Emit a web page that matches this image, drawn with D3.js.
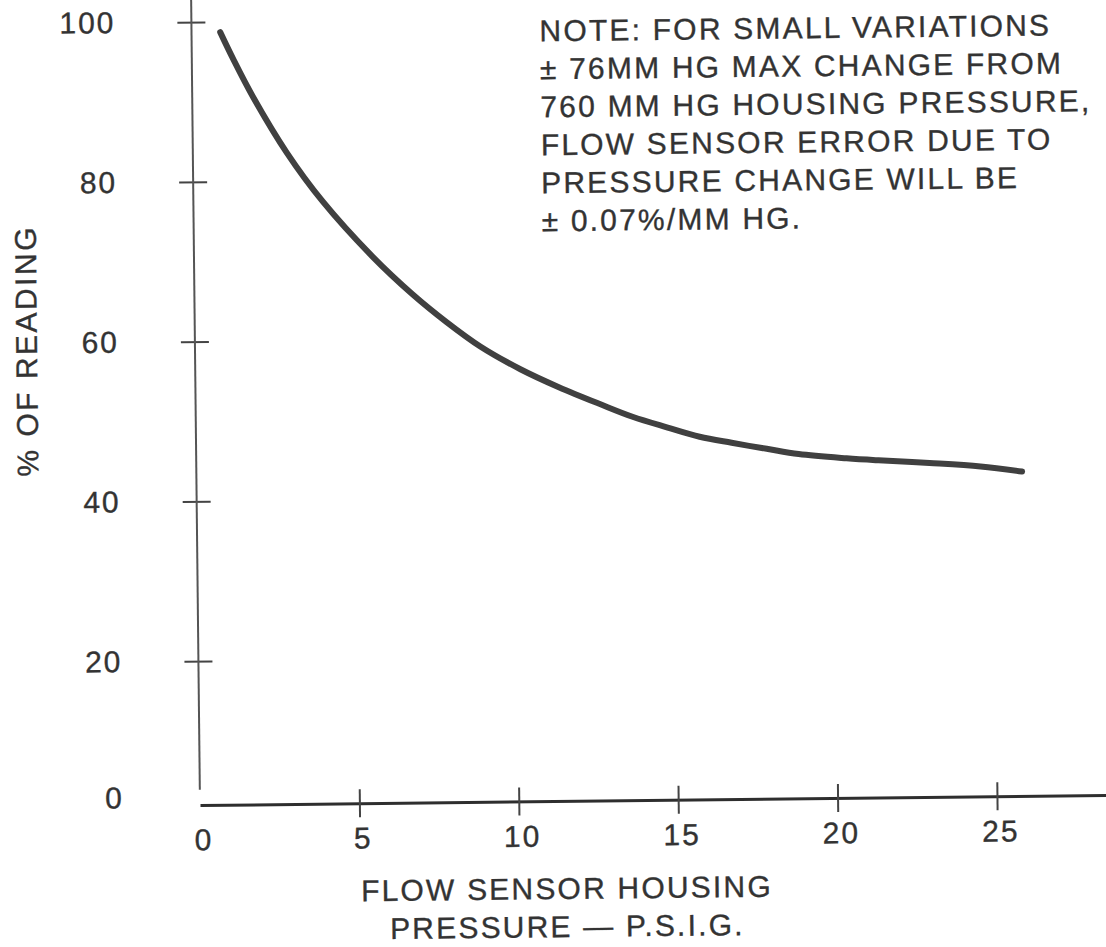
<!DOCTYPE html>
<html>
<head>
<meta charset="utf-8">
<script src="https://cdn.jsdelivr.net/npm/d3@7"></script>
<style>
  body { margin: 0; background: #fff; }
  svg { display: block; }
  text { font-family: "Liberation Sans", Arial, Helvetica, sans-serif; fill: #333; stroke: #333; stroke-width: 0.35px; }
</style>
</head>
<body>
<svg id="chart"></svg>
<script>
// values
const xTicks = [0, 5, 10, 15, 20, 25];
const yTicks = [20, 40, 60, 80, 100];
const pressure = [0.9, 1.3, 1.9, 2.95, 4.05, 5.6, 6.85, 7.9, 8.95, 10.2, 11.4, 12.7, 13.7, 14.8, 15.8, 16.8, 17.9, 18.9, 20.4, 21.4, 23.0, 24.6, 25.9];
const reading = [98.7, 95.3, 90.6, 83.5, 77.4, 70.4, 65.6, 62.1, 59.0, 56.1, 53.8, 51.6, 50.0, 48.6, 47.4, 46.6, 45.8, 45.1, 44.5, 44.2, 43.8, 43.3, 42.6];
const noteLines = [
  "NOTE: FOR SMALL VARIATIONS",
  "\u00B1  76MM HG MAX CHANGE FROM",
  "760 MM HG HOUSING PRESSURE,",
  "FLOW SENSOR ERROR DUE TO",
  "PRESSURE CHANGE WILL BE",
  "\u00B1 0.07%/MM HG."
];
const xTitle = ["FLOW SENSOR HOUSING", "PRESSURE \u2014 P.S.I.G."];
const yTitle = "% OF READING";

let width = 1106;
let height = 947;
let fontSize = "30px";

let svg = d3.select("#chart")
  .attr("width", width)
  .attr("height", height);

svg.append("rect").attr("width", width).attr("height", height).attr("fill", "#fff");

// the scan is turned a little, so the whole plot is too
let g = svg.append("g")
  .attr("transform", "translate(200,805) rotate(-0.63)");

let xScale = d3.scaleLinear().domain([0, 28.6]).range([0, 28.6 * 31.88]);
let yScale = d3.scaleLinear().domain([0, 100]).range([16, -783]);

// x axis
let xAxis = d3.axisBottom(xScale)
  .tickValues(xTicks)
  .tickSizeInner(14)
  .tickSizeOuter(0)
  .tickPadding(10)
  .tickFormat(d3.format("d"));

let gx = g.append("g").call(xAxis);
gx.select(".domain").attr("stroke", "#2e2e2e").attr("stroke-width", 3);
gx.selectAll(".tick line")
  .attr("y1", -14)
  .attr("stroke", "#444")
  .attr("stroke-width", 2)
  .filter(d => d === 0).remove();
gx.selectAll(".tick text")
  .attr("dx", 3)
  .style("font-size", fontSize)
  .style("letter-spacing", "2px")
  .attr("fill", "#333");

// y axis
let yAxis = d3.axisLeft(yScale)
  .tickValues(yTicks)
  .tickSizeInner(14)
  .tickSizeOuter(0)
  .tickPadding(62);

let gy = g.append("g").call(yAxis);
gy.select(".domain").remove();
gy.selectAll(".tick line")
  .attr("x1", 14)
  .attr("stroke", "#444")
  .attr("stroke-width", 2);
gy.selectAll(".tick text")
  .style("font-size", fontSize)
  .style("letter-spacing", "2px")
  .attr("fill", "#333");

gy.append("line")
  .attr("x1", 0).attr("x2", 0)
  .attr("y1", yScale(3.9)).attr("y2", yScale(103))
  .attr("stroke", "#555")
  .attr("stroke-width", 2);

// "0" of the y axis sits at the level of the x axis
gy.append("text")
  .attr("x", -76)
  .attr("y", -8)
  .attr("dy", "0.35em")
  .attr("text-anchor", "end")
  .style("font-size", fontSize)
  .style("letter-spacing", "2px")
  .text("0");

// curve
let line = d3.line()
  .x(d => xScale(d[0]))
  .y(d => yScale(d[1]))
  .curve(d3.curveCatmullRom.alpha(0.5));

g.append("path")
  .datum(d3.zip(pressure, reading))
  .attr("d", line)
  .attr("fill", "none")
  .attr("stroke", "#404040")
  .attr("stroke-width", 6)
  .attr("stroke-linecap", "round");

// note
g.append("text")
  .attr("x", 348)
  .attr("y", -760)
  .style("font-size", fontSize)
  .style("letter-spacing", "2.2px")
  .selectAll("tspan")
  .data(noteLines)
  .enter()
  .append("tspan")
  .attr("x", 348)
  .attr("dy", (d, i) => i === 0 ? 0 : 38)
  .text(d => d);

// axis titles
g.append("text")
  .attr("text-anchor", "middle")
  .style("font-size", fontSize)
  .style("letter-spacing", "2.2px")
  .selectAll("tspan")
  .data(xTitle)
  .enter()
  .append("tspan")
  .attr("x", 366)
  .attr("y", (d, i) => 98 + i * 38)
  .text(d => d);

g.append("text")
  .attr("transform", "translate(-158,-456) rotate(-90)")
  .attr("text-anchor", "middle")
  .style("font-size", fontSize)
  .style("letter-spacing", "2.5px")
  .text(yTitle);
</script>
</body>
</html>
